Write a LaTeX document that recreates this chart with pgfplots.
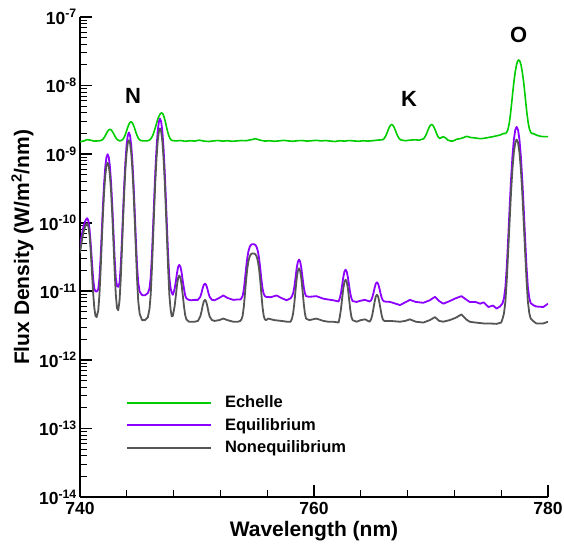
\documentclass[border=0pt]{standalone}
\usepackage{fontspec}
\setmainfont{Liberation Sans}
\usepackage{pgfplots}
\pgfplotsset{compat=1.18}
\definecolor{cEch}{RGB}{0,205,0}
\definecolor{cEq}{RGB}{140,0,255}
\definecolor{cNon}{RGB}{85,85,85}
\begin{document}
\begin{tikzpicture}
\begin{axis}[
  scale only axis, width=468pt, height=480pt,
  ymode=log, xmin=740, xmax=780, ymin=1e-14, ymax=1e-7,
  axis x line*=bottom, axis y line*=left,
  axis line style={line width=2pt,-},
  tick align=inside,
  xtick={740,760,780}, xticklabels={740,760,780},
  minor x tick num=4,
  ytick={1e-14,1e-13,1e-12,1e-11,1e-10,1e-9,1e-8,1e-7},
  yticklabels={10\textsuperscript{-14},10\textsuperscript{-13},10\textsuperscript{-12},10\textsuperscript{-11},10\textsuperscript{-10},10\textsuperscript{-9},10\textsuperscript{-8},10\textsuperscript{-7}},
  minor ytick={2e-14,3e-14,4e-14,5e-14,6e-14,7e-14,8e-14,9e-14,
    2e-13,3e-13,4e-13,5e-13,6e-13,7e-13,8e-13,9e-13,
    2e-12,3e-12,4e-12,5e-12,6e-12,7e-12,8e-12,9e-12,
    2e-11,3e-11,4e-11,5e-11,6e-11,7e-11,8e-11,9e-11,
    2e-10,3e-10,4e-10,5e-10,6e-10,7e-10,8e-10,9e-10,
    2e-9,3e-9,4e-9,5e-9,6e-9,7e-9,8e-9,9e-9,
    2e-8,3e-8,4e-8,5e-8,6e-8,7e-8,8e-8,9e-8},
  major tick length=12pt, minor tick length=7pt,
  major tick style={line width=1.6pt,black},
  minor tick style={line width=0.9pt,black},
  tick label style={font=\fontsize{17.5}{20}\selectfont\bfseries},
  xticklabel style={yshift=-2pt},
  yticklabel style={inner sep=3pt},
  xlabel={Wavelength (nm)},
  xlabel style={at={(axis description cs:0.5,-0.072)}, anchor=center, font=\fontsize{21}{24}\selectfont\bfseries},
  ylabel={Flux Density (W/m\textsuperscript{2}/nm)},
  ylabel style={at={(axis description cs:-0.1229,0.52)}, anchor=center, font=\fontsize{21}{24}\selectfont\bfseries},
  legend style={at={(axis description cs:0.0983,0.215)}, anchor=north west, draw=none, fill=none, inner sep=0pt,
    font=\fontsize{16.5}{18}\selectfont\bfseries, row sep=5pt,
    /tikz/every odd column/.append style={column sep=11pt}},
  legend cell align=left,
  legend image code/.code={\draw[#1] (0pt,0pt) -- (84pt,0pt);},
  every axis plot/.append style={line join=round},
]
\addplot[color=cEch, line width=1.6pt] coordinates {
(740.0,1.52e-9)(740.3,1.55e-9)(740.6,1.63e-9)(740.9,1.6e-9)(741.2,1.55e-9)(741.5,1.56e-9)(741.7,1.57e-9)
(741.86,1.6e-9)(741.96,1.65e-9)(742.06,1.74e-9)(742.16,1.86e-9)(742.26,2.01e-9)(742.36,2.15e-9)(742.46,2.26e-9)
(742.56,2.3e-9)(742.66,2.26e-9)(742.76,2.15e-9)(742.86,2.01e-9)(742.96,1.86e-9)(743.06,1.74e-9)(743.16,1.65e-9)
(743.26,1.6e-9)(743.36,1.57e-9)(743.46,1.57e-9)
(743.56,1.59e-9)(743.66,1.64e-9)(743.76,1.74e-9)(743.86,1.9e-9)(743.96,2.13e-9)(744.06,2.41e-9)(744.16,2.68e-9)
(744.26,2.88e-9)(744.36,2.96e-9)(744.46,2.88e-9)(744.56,2.68e-9)(744.66,2.41e-9)(744.76,2.13e-9)(744.86,1.9e-9)
(744.96,1.74e-9)(745.06,1.64e-9)(745.16,1.59e-9)(745.3,1.57e-9)(745.56,1.56e-9)
(745.78,1.57e-9)(745.88,1.59e-9)(745.98,1.63e-9)(746.08,1.7e-9)(746.18,1.82e-9)(746.28,2.0e-9)(746.38,2.26e-9)
(746.48,2.58e-9)(746.58,2.96e-9)(746.68,3.34e-9)(746.78,3.68e-9)(746.88,3.92e-9)(746.98,4.0e-9)(747.08,3.87e-9)
(747.18,3.51e-9)(747.28,3.04e-9)(747.38,2.56e-9)(747.48,2.16e-9)(747.58,1.88e-9)(747.68,1.71e-9)(747.78,1.62e-9)
(747.9,1.58e-9)
(748.2,1.56e-9)(748.6,1.58e-9)(749.0,1.54e-9)(749.4,1.57e-9)(749.8,1.55e-9)(750.2,1.6e-9)(750.6,1.55e-9)
(751.0,1.53e-9)(751.4,1.56e-9)(751.8,1.58e-9)(752.2,1.55e-9)(752.6,1.57e-9)(753.0,1.54e-9)(753.4,1.56e-9)
(753.8,1.58e-9)(754.2,1.57e-9)(754.6,1.62e-9)(755.0,1.68e-9)(755.4,1.6e-9)(755.8,1.55e-9)(756.2,1.57e-9)
(756.6,1.54e-9)(757.0,1.56e-9)(757.4,1.59e-9)(757.8,1.56e-9)(758.2,1.54e-9)(758.6,1.57e-9)(759.0,1.58e-9)
(759.4,1.55e-9)(759.8,1.57e-9)(760.2,1.59e-9)(760.6,1.56e-9)(761.0,1.58e-9)(761.4,1.55e-9)(761.8,1.53e-9)
(762.2,1.57e-9)(762.6,1.55e-9)(763.0,1.58e-9)(763.4,1.56e-9)(763.8,1.54e-9)(764.2,1.57e-9)(764.6,1.55e-9)
(765.0,1.57e-9)(765.4,1.6e-9)(765.8,1.62e-9)
(765.94,1.65e-9)(766.04,1.73e-9)(766.14,1.86e-9)(766.24,2.04e-9)(766.34,2.26e-9)(766.44,2.48e-9)(766.54,2.64e-9)
(766.64,2.7e-9)(766.74,2.64e-9)(766.84,2.48e-9)(766.94,2.26e-9)(767.04,2.04e-9)(767.14,1.86e-9)(767.24,1.73e-9)
(767.34,1.65e-9)(767.44,1.61e-9)
(767.8,1.57e-9)(768.2,1.6e-9)(768.6,1.62e-9)(769.0,1.6e-9)
(769.35,1.67e-9)(769.45,1.75e-9)(769.55,1.87e-9)(769.65,2.05e-9)(769.75,2.27e-9)(769.85,2.48e-9)(769.95,2.64e-9)
(770.05,2.7e-9)(770.15,2.64e-9)(770.25,2.48e-9)(770.35,2.27e-9)(770.45,2.05e-9)(770.55,1.87e-9)(770.65,1.75e-9)
(770.75,1.7e-9)(770.9,1.75e-9)(771.05,1.8e-9)(771.25,1.72e-9)(771.45,1.6e-9)(771.7,1.55e-9)(771.9,1.56e-9)
(772.2,1.65e-9)(772.6,1.7e-9)(773.05,1.82e-9)(773.4,1.75e-9)(773.8,1.72e-9)(774.2,1.68e-9)(774.5,1.7e-9)
(774.9,1.75e-9)(775.3,1.8e-9)(775.6,1.85e-9)(775.9,1.9e-9)(776.2,2.0e-9)
(776.3,2.0e-9)(776.4,2.02e-9)(776.5,2.12e-9)(776.6,2.37e-9)(776.7,2.9e-9)(776.8,3.93e-9)(776.9,5.68e-9)
(777.0,8.35e-9)(777.1,1.19e-8)(777.2,1.59e-8)(777.3,1.98e-8)(777.4,2.26e-8)(777.5,2.365e-8)(777.6,2.26e-8)
(777.7,1.98e-8)(777.8,1.59e-8)(777.9,1.19e-8)(778.0,8.35e-9)(778.1,5.68e-9)(778.2,3.93e-9)(778.3,2.9e-9)
(778.4,2.37e-9)(778.5,2.12e-9)(778.6,2.0e-9)(778.74,2.0e-9)(779.0,1.9e-9)(779.3,1.83e-9)(779.6,1.8e-9)(780.0,1.8e-9)
};
\addlegendentry{Echelle}
\addplot[color=cEq, line width=1.8pt] coordinates {
(740.0,4.5e-11)(740.1,5.8e-11)(740.2,7.3e-11)(740.3,8.8e-11)(740.42,1.03e-10)(740.52,1.12e-10)(740.62,1.165e-10)
(740.72,1.06e-10)(740.82,7.9e-11)(740.92,4.85e-11)(741.02,2.7e-11)(741.12,1.55e-11)(741.22,1.1e-11)(741.32,1.0e-11)
(741.42,9.9e-12)
(741.56,1.07e-11)(741.66,1.54e-11)(741.76,3.03e-11)(741.86,7.3e-11)(741.96,1.77e-10)(742.06,3.75e-10)(742.16,6.52e-10)
(742.26,9.0e-10)(742.36,9.98e-10)(742.46,9.0e-10)(742.56,6.52e-10)(742.66,3.75e-10)(742.76,1.77e-10)(742.86,7.3e-11)
(742.96,3.05e-11)(743.06,1.57e-11)(743.16,1.2e-11)(743.27,1.16e-11)
(743.38,1.33e-11)(743.48,2.3e-11)(743.58,5.4e-11)(743.68,1.42e-10)(743.78,3.59e-10)(743.88,7.7e-10)(743.98,1.34e-9)
(744.08,1.86e-9)(744.18,2.07e-9)(744.28,1.86e-9)(744.38,1.34e-9)(744.48,7.7e-10)(744.58,3.59e-10)(744.68,1.42e-10)
(744.78,5.4e-11)(744.88,2.3e-11)(744.98,1.33e-11)(745.1,9.9e-12)(745.3,8.8e-12)(745.56,8.75e-12)(745.8,9.4e-12)
(745.94,1.11e-11)
(746.04,1.57e-11)(746.14,3.15e-11)(746.24,8.1e-11)(746.34,2.22e-10)(746.44,5.68e-10)(746.54,1.23e-9)(746.64,2.14e-9)
(746.74,2.96e-9)(746.84,3.3e-9)(746.94,2.96e-9)(747.04,2.14e-9)(747.14,1.23e-9)(747.24,5.68e-10)(747.34,2.22e-10)
(747.44,8.1e-11)(747.54,3.15e-11)(747.64,1.57e-11)(747.74,1.12e-11)(747.84,9.5e-12)(747.94,8.9e-12)
(748.09,1.09e-11)(748.19,1.39e-11)(748.29,1.85e-11)(748.39,2.27e-11)(748.49,2.43e-11)(748.59,2.27e-11)(748.69,1.85e-11)
(748.79,1.39e-11)(748.89,1.09e-11)(748.99,8.7e-12)(749.09,7.9e-12)(749.3,7.5e-12)(749.5,7.4e-12)(749.8,7.5e-12)
(750.08,7.5e-12)(750.28,8.3e-12)(750.38,9.4e-12)(750.48,1.1e-11)(750.58,1.24e-11)(750.68,1.29e-11)(750.78,1.24e-11)
(750.88,1.1e-11)(750.98,9.4e-12)(751.08,8.3e-12)(751.28,7.5e-12)(751.5,7.4e-12)(751.9,8.0e-12)(752.25,8.7e-12)
(752.6,8.0e-12)(753.1,7.5e-12)(753.5,7.6e-12)
(753.7,7.6e-12)(753.8,7.9e-12)(753.9,8.6e-12)(754.0,1.05e-11)(754.1,1.51e-11)(754.2,2.22e-11)(754.3,3.08e-11)
(754.4,3.86e-11)(754.5,4.41e-11)(754.6,4.73e-11)(754.7,4.84e-11)(754.8,4.85e-11)(754.9,4.84e-11)(755.0,4.73e-11)
(755.1,4.41e-11)(755.2,3.86e-11)(755.3,3.08e-11)(755.4,2.22e-11)(755.5,1.51e-11)(755.6,1.1e-11)(755.7,9.2e-12)
(755.8,8.5e-12)(755.9,8.3e-12)
(756.3,8.2e-12)(756.8,8.7e-12)(757.2,8.0e-12)(757.66,7.4e-12)(758.0,7.9e-12)(758.12,8.5e-12)(758.22,9.4e-12)
(758.32,1.16e-11)(758.42,1.58e-11)(758.52,2.17e-11)(758.62,2.69e-11)(758.72,2.9e-11)(758.82,2.69e-11)(758.92,2.17e-11)
(759.02,1.58e-11)(759.12,1.16e-11)(759.22,9.4e-12)(759.32,8.5e-12)(759.6,8.3e-12)(760.2,8.5e-12)(760.8,7.8e-12)
(761.2,7.6e-12)(761.65,7.4e-12)(762.1,7.1e-12)(762.2,7.9e-12)(762.3,9.3e-12)(762.4,1.21e-11)(762.5,1.59e-11)
(762.6,1.93e-11)(762.7,2.07e-11)(762.8,1.93e-11)(762.9,1.59e-11)(763.0,1.21e-11)(763.1,9.3e-12)(763.2,7.9e-12)
(763.3,7.2e-12)(763.64,7.0e-12)(764.0,7.3e-12)(764.36,7.5e-12)(764.75,7.1e-12)(764.88,7.4e-12)(764.98,8.1e-12)
(765.08,9.4e-12)(765.18,1.12e-11)(765.28,1.29e-11)(765.38,1.35e-11)(765.48,1.29e-11)(765.58,1.12e-11)(765.68,9.4e-12)
(765.78,8.1e-12)(765.88,7.4e-12)(766.0,7.1e-12)(766.5,7.0e-12)(767.35,6.3e-12)(767.8,6.9e-12)(768.2,7.5e-12)
(768.7,7.0e-12)(769.34,6.8e-12)(769.9,7.4e-12)(770.34,8.3e-12)(770.7,7.2e-12)(771.05,6.6e-12)(771.6,7.2e-12)
(772.1,7.9e-12)(772.6,8.5e-12)(773.0,7.6e-12)(773.3,7.0e-12)(773.8,7.0e-12)(774.2,6.6e-12)(774.5,6.9e-12)
(774.9,5.9e-12)(775.3,6.2e-12)(775.6,5.6e-12)(775.9,6.0e-12)
(776.12,6.7e-12)(776.24,8.0e-12)(776.36,1.15e-11)(776.48,2.34e-11)(776.6,6.08e-11)(776.72,1.68e-10)(776.84,4.29e-10)
(776.96,9.27e-10)(777.08,1.62e-9)(777.2,2.25e-9)(777.32,2.5e-9)(777.44,2.25e-9)(777.56,1.62e-9)(777.68,9.27e-10)
(777.8,4.29e-10)(777.92,1.68e-10)(778.04,6.08e-11)(778.16,2.34e-11)(778.28,1.15e-11)(778.4,8.0e-12)(778.52,6.7e-12)
(778.8,6.2e-12)(779.0,6.0e-12)(779.6,5.9e-12)(780.0,6.6e-12)
};
\addlegendentry{Equilibrium}
\addplot[color=cNon, line width=1.8pt] coordinates {
(740.0,3.6e-11)(740.1,4.7e-11)(740.2,6.0e-11)(740.3,7.3e-11)(740.42,8.6e-11)(740.52,9.4e-11)(740.62,9.7e-11)
(740.72,8.76e-11)(740.82,6.43e-11)(740.92,3.82e-11)(741.02,1.95e-11)(741.12,9.7e-12)(741.22,5.8e-12)(741.32,4.4e-12)
(741.42,4.2e-12)
(741.56,5.2e-12)(741.66,8.8e-12)(741.76,2.0e-11)(741.86,5.21e-11)(741.96,1.31e-10)(742.06,2.8e-10)(742.16,4.89e-10)
(742.26,6.75e-10)(742.36,7.5e-10)(742.46,6.75e-10)(742.56,4.89e-10)(742.66,2.8e-10)(742.76,1.31e-10)(742.86,5.21e-11)
(742.96,2.02e-11)(743.06,9.0e-12)(743.16,5.7e-12)(743.27,5.3e-12)
(743.38,7.3e-12)(743.48,1.48e-11)(743.58,3.88e-11)(743.68,1.08e-10)(743.78,2.76e-10)(743.88,5.96e-10)(743.98,1.04e-9)
(744.08,1.44e-9)(744.18,1.6e-9)(744.28,1.44e-9)(744.38,1.04e-9)(744.48,5.96e-10)(744.58,2.76e-10)(744.68,1.08e-10)
(744.78,3.88e-11)(744.88,1.48e-11)(744.98,7.1e-12)(745.1,4.7e-12)(745.3,3.8e-12)(745.56,3.8e-12)(745.8,4.2e-12)
(745.94,5.5e-12)
(746.04,8.8e-12)(746.14,2.02e-11)(746.24,5.56e-11)(746.34,1.58e-10)(746.44,4.06e-10)(746.54,8.79e-10)(746.64,1.54e-9)
(746.74,2.13e-9)(746.84,2.37e-9)(746.94,2.13e-9)(747.04,1.54e-9)(747.14,8.79e-10)(747.24,4.06e-10)(747.34,1.58e-10)
(747.44,5.56e-11)(747.54,2.02e-11)(747.64,8.8e-12)(747.74,5.5e-12)(747.84,4.3e-12)(747.94,4.4e-12)
(748.09,6.1e-12)(748.19,8.6e-12)(748.29,1.23e-11)(748.39,1.57e-11)(748.49,1.7e-11)(748.59,1.57e-11)(748.69,1.23e-11)
(748.79,8.6e-12)(748.89,6.0e-12)(748.99,4.5e-12)(749.09,3.9e-12)(749.3,3.6e-12)(749.5,3.6e-12)(749.8,3.6e-12)
(750.08,3.7e-12)(750.28,4.3e-12)(750.38,5.0e-12)(750.48,6.1e-12)(750.58,7.1e-12)(750.68,7.5e-12)(750.78,7.1e-12)
(750.88,6.1e-12)(750.98,5.0e-12)(751.08,4.3e-12)(751.28,3.8e-12)(751.5,3.7e-12)(751.9,3.8e-12)(752.25,4.0e-12)
(752.6,3.8e-12)(753.1,3.6e-12)(753.5,3.6e-12)
(753.7,3.7e-12)(753.8,3.9e-12)(753.9,4.4e-12)(754.0,5.9e-12)(754.1,9.2e-12)(754.2,1.48e-11)(754.3,2.16e-11)
(754.4,2.77e-11)(754.5,3.21e-11)(754.6,3.46e-11)(754.7,3.55e-11)(754.8,3.56e-11)(754.9,3.55e-11)(755.0,3.46e-11)
(755.1,3.21e-11)(755.2,2.77e-11)(755.3,2.16e-11)(755.4,1.48e-11)(755.5,9.2e-12)(755.6,5.9e-12)(755.7,4.4e-12)
(755.8,3.9e-12)(755.9,3.8e-12)
(756.1,4.0e-12)(756.6,3.8e-12)(757.2,3.7e-12)(757.7,3.6e-12)(758.0,3.6e-12)(758.12,4.0e-12)(758.22,4.8e-12)
(758.32,6.7e-12)(758.42,1.03e-11)(758.52,1.53e-11)(758.62,1.98e-11)(758.72,2.16e-11)(758.82,1.98e-11)(758.92,1.53e-11)
(759.02,1.03e-11)(759.12,6.7e-12)(759.22,4.8e-12)(759.32,4.0e-12)(759.6,3.8e-12)(760.2,4.0e-12)(760.8,3.7e-12)
(761.2,3.6e-12)(761.65,3.6e-12)(762.1,3.5e-12)(762.2,4.2e-12)(762.3,5.4e-12)(762.4,7.7e-12)(762.5,1.09e-11)
(762.6,1.37e-11)(762.7,1.48e-11)(762.8,1.37e-11)(762.9,1.09e-11)(763.0,7.7e-12)(763.1,5.4e-12)(763.2,4.2e-12)
(763.3,3.8e-12)(763.64,3.6e-12)(764.0,3.8e-12)(764.36,3.9e-12)(764.75,3.6e-12)(764.88,3.9e-12)(764.98,4.5e-12)
(765.08,5.6e-12)(765.18,7.0e-12)(765.28,8.4e-12)(765.38,8.9e-12)(765.48,8.4e-12)(765.58,7.0e-12)(765.68,5.6e-12)
(765.78,4.5e-12)(765.88,3.9e-12)(766.0,3.7e-12)(766.5,3.7e-12)(767.35,3.6e-12)(767.8,3.7e-12)(768.2,3.9e-12)
(768.7,3.6e-12)(769.34,3.5e-12)(769.9,3.8e-12)(770.34,4.2e-12)(770.7,3.7e-12)(771.05,3.6e-12)(771.6,3.8e-12)
(772.1,4.1e-12)(772.6,4.6e-12)(773.0,3.9e-12)(773.3,3.6e-12)(773.8,3.5e-12)(774.5,3.4e-12)(775.0,3.4e-12)
(775.6,3.35e-12)(776.0,3.5e-12)
(776.12,4.0e-12)(776.24,4.8e-12)(776.36,7.1e-12)(776.48,1.5e-11)(776.6,3.95e-11)(776.72,1.06e-10)(776.84,2.78e-10)
(776.96,6.06e-10)(777.08,1.06e-9)(777.2,1.47e-9)(777.32,1.64e-9)(777.44,1.47e-9)(777.56,1.06e-9)(777.68,6.06e-10)
(777.8,2.78e-10)(777.92,1.06e-10)(778.04,3.95e-11)(778.16,1.5e-11)(778.28,7.1e-12)(778.4,4.8e-12)(778.52,4.0e-12)
(778.8,3.6e-12)(779.0,3.4e-12)(779.6,3.4e-12)(780.0,3.6e-12)
};
\addlegendentry{Nonequilibrium}
\node[font=\fontsize{22}{24}\selectfont\bfseries] at (axis cs:744.53,7.16e-9) {N};
\node[font=\fontsize{22}{24}\selectfont\bfseries] at (axis cs:768.12,6.47e-9) {K};
\node[font=\fontsize{22}{24}\selectfont\bfseries] at (axis cs:777.5,5.46e-8) {O};
\end{axis}
\pgfresetboundingbox
\path[use as bounding box] ([shift={(-80pt,-49pt)}]current axis.south west) rectangle ([shift={(484pt,497pt)}]current axis.south west);
\end{tikzpicture}
\end{document}
